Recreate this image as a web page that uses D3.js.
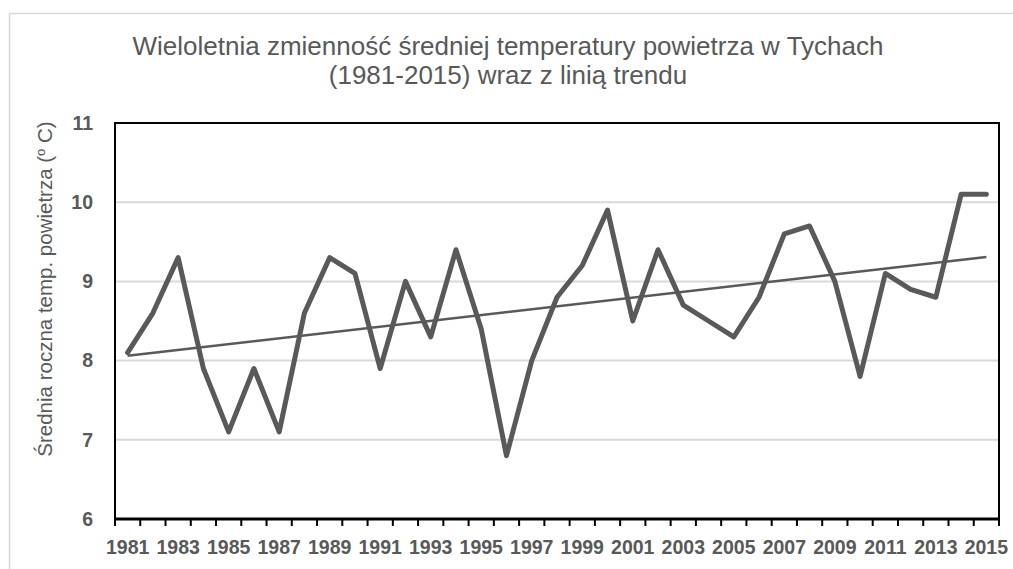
<!DOCTYPE html>
<html>

<head>
    <meta charset="UTF-8">
    <title>Tychy temperatura</title>
    <style>
        body {
            margin: 0;
            background: #fff;
            font-family: 'Liberation Sans', Arial, sans-serif;
        }

        .title {
            font-size: 26px;
            fill: #595959;
            text-anchor: middle;
        }

        .tick text {
            font-size: 19.5px;
            font-weight: bold;
            fill: #595959;
        }

        .grid line {
            stroke: #d9d9d9;
            stroke-width: 2;
        }
    </style>
</head>

<body>
    <script src="https://d3js.org/d3.v7.min.js"></script>
    <script>
        /// data

        var years = d3.range(1981, 2016).map(String);
        var temps = [8.1, 8.6, 9.3, 7.9, 7.1, 7.9, 7.1, 8.6, 9.3, 9.1,
            7.9, 9.0, 8.3, 9.4, 8.4, 6.8, 8.0, 8.8, 9.2, 9.9,
            8.5, 9.4, 8.7, 8.5, 8.3, 8.8, 9.6, 9.7, 9.0, 7.8,
            9.1, 8.9, 8.8, 10.1, 10.1];
        var yTicks = [6, 7, 8, 9, 10, 11];
        var titleLines = ["Wieloletnia zmienność średniej temperatury powietrza w Tychach",
            "(1981-2015) wraz z linią trendu"];
        var yLabel = "Średnia roczna temp. powietrza (";

        /// main

        var width = 1013,
            height = 569;
        var margin = { top: 123, right: 14, bottom: 50, left: 115 };

        var svg = d3.select("body").append("svg")
            .attr("width", width)
            .attr("height", height);

        // outer chart frame
        svg.append("rect")
            .attr("x", 9.5).attr("y", 13.5)
            .attr("width", width).attr("height", height)
            .attr("fill", "none")
            .attr("stroke", "#d9d9d9")
            .attr("stroke-width", 1.5);

        var x = d3.scaleBand()
            .domain(years)
            .range([margin.left, width - margin.right])
            .paddingInner(0).paddingOuter(0);
        var y = d3.scaleLinear()
            .domain([6, 11])
            .range([height - margin.bottom, margin.top]);

        // title
        svg.append("text")
            .attr("class", "title")
            .selectAll("tspan")
            .data(titleLines)
            .enter().append("tspan")
            .attr("x", 508)
            .attr("y", function(d, i) { return 55 + i * 29; })
            .text(function(d) { return d; });

        // y axis title
        var yt = svg.append("text")
            .attr("transform", "translate(52,289) rotate(-90)")
            .attr("text-anchor", "middle")
            .attr("fill", "#595959")
            .style("font-size", "20.5px");
        yt.append("tspan").text(yLabel);
        yt.append("tspan").attr("dy", -7).style("font-size", "13px").text("o");
        yt.append("tspan").attr("dy", 7).text(" C)");

        // gridlines
        svg.append("g")
            .attr("class", "grid")
            .selectAll("line")
            .data(yTicks.slice(1, -1))
            .enter().append("line")
            .attr("x1", margin.left).attr("x2", width - margin.right)
            .attr("y1", function(d) { return y(d); })
            .attr("y2", function(d) { return y(d); });

        // y axis labels
        svg.append("g")
            .attr("transform", "translate(" + margin.left + ",0)")
            .call(d3.axisLeft(y).tickValues(yTicks).tickFormat(d3.format("d"))
                .tickSize(0).tickPadding(22))
            .call(function(g) { g.select(".domain").remove(); });

        // x axis: ticks at category boundaries, labels every 2nd year
        var xAxis = svg.append("g")
            .attr("transform", "translate(0," + y(6) + ")")
            .call(d3.axisBottom(x)
                .tickValues(years.filter(function(d, i) { return i % 2 === 0; }))
                .tickSize(0).tickPadding(21))
            .call(function(g) { g.select(".domain").remove(); });

        var bounds = years.map(function(d) { return x(d); }).concat([x.range()[1]]);
        xAxis.selectAll(".bound")
            .data(bounds)
            .enter().append("line")
            .attr("class", "bound")
            .attr("x1", function(d) { return d; }).attr("x2", function(d) { return d; })
            .attr("y1", 0).attr("y2", 7)
            .attr("stroke", "#000").attr("stroke-width", 2);

        // plot frame
        svg.append("rect")
            .attr("x", margin.left).attr("y", margin.top)
            .attr("width", x.range()[1] - margin.left)
            .attr("height", y(6) - margin.top)
            .attr("fill", "none")
            .attr("stroke", "#000")
            .attr("stroke-width", 2);
        svg.append("line")
            .attr("x1", margin.left - 1).attr("x2", x.range()[1] + 1)
            .attr("y1", y(6)).attr("y2", y(6))
            .attr("stroke", "#000").attr("stroke-width", 3);

        var cx = function(d, i) { return x(years[i]) + x.bandwidth() / 2; };

        // linear trend (least squares, like the spreadsheet trendline)
        var n = temps.length;
        var mx = (n - 1) / 2,
            my = d3.mean(temps);
        var sxy = d3.sum(temps, function(d, i) { return (i - mx) * (d - my); });
        var sxx = d3.sum(temps, function(d, i) { return (i - mx) * (i - mx); });
        var slope = sxy / sxx;
        var trend = [0, n - 1].map(function(i) { return { i: i, v: my + slope * (i - mx) }; });

        svg.append("path")
            .datum(temps)
            .attr("fill", "none")
            .attr("stroke", "#595959")
            .attr("stroke-width", 5)
            .attr("stroke-linejoin", "round")
            .attr("stroke-linecap", "round")
            .attr("d", d3.line().x(cx).y(function(d) { return y(d); }));

        svg.append("path")
            .datum(trend)
            .attr("fill", "none")
            .attr("stroke", "#595959")
            .attr("stroke-width", 2.5)
            .attr("d", d3.line()
                .x(function(d) { return x(years[d.i]) + x.bandwidth() / 2; })
                .y(function(d) { return y(d.v); }));
    </script>
</body>

</html>
